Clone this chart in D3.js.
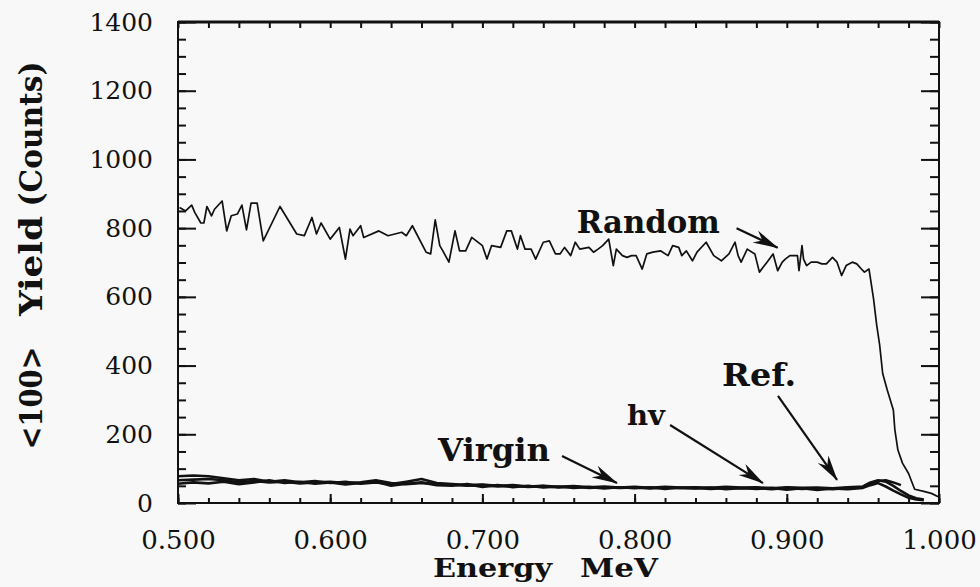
<!DOCTYPE html>
<html>
<head>
<meta charset="utf-8">
<script src="https://cdn.jsdelivr.net/npm/d3@7"></script>
<style>
    body { margin: 0; background: #f7f8f7; }
    svg { display: block; }
    .note { font-family: "DejaVu Serif", serif; font-weight: bold; fill: #111; }
</style>
</head>
<body>
<svg id="chart" width="980" height="587"></svg>
<script>
// --- data ---
const xTicks = [0.5, 0.6, 0.7, 0.8, 0.9, 1.0];
const yTicks = [0, 200, 400, 600, 800, 1000, 1200, 1400];

const randomEnergy = [0.501, 0.505, 0.509, 0.511, 0.515, 0.517, 0.519, 0.522, 0.524, 0.529,
    0.532, 0.535, 0.539, 0.542, 0.545, 0.548, 0.552, 0.556, 0.567, 0.578,
    0.583, 0.588, 0.591, 0.594, 0.600, 0.606, 0.610, 0.613, 0.615, 0.620,
    0.622, 0.632, 0.638, 0.647, 0.650, 0.654, 0.663, 0.666, 0.669, 0.672,
    0.674, 0.678, 0.682, 0.685, 0.689, 0.693, 0.700, 0.703, 0.706, 0.712,
    0.716, 0.719, 0.723, 0.725, 0.728, 0.732, 0.735, 0.740, 0.744, 0.748,
    0.751, 0.754, 0.758, 0.761, 0.764, 0.770, 0.773, 0.776, 0.779, 0.783,
    0.786, 0.788, 0.792, 0.795, 0.798, 0.801, 0.805, 0.808, 0.812, 0.817,
    0.822, 0.825, 0.829, 0.831, 0.834, 0.838, 0.841, 0.847, 0.852, 0.857,
    0.862, 0.866, 0.868, 0.870, 0.874, 0.879, 0.882, 0.887, 0.891, 0.894,
    0.897, 0.899, 0.902, 0.907, 0.908, 0.910, 0.911, 0.913, 0.916, 0.920,
    0.923, 0.926, 0.930, 0.933, 0.936, 0.939, 0.943, 0.946, 0.949, 0.951,
    0.954, 0.955, 0.957, 0.959, 0.961, 0.963, 0.966, 0.970, 0.971, 0.973,
    0.976, 0.980, 0.984, 0.990, 0.995, 0.9995];
const randomCounts = [860, 850, 867, 846, 815, 815, 863, 836, 855, 879,
    792, 836, 841, 867, 795, 873, 873, 763, 863, 783,
    778, 831, 783, 815, 768, 802, 710, 797, 778, 807,
    773, 792, 778, 788, 778, 807, 730, 725, 824, 749,
    734, 701, 792, 734, 734, 773, 749, 710, 749, 744,
    792, 792, 739, 778, 739, 739, 710, 759, 763, 725,
    725, 744, 720, 759, 739, 744, 730, 739, 749, 768,
    691, 739, 720, 715, 720, 720, 681, 725, 730, 734,
    720, 749, 744, 720, 734, 705, 730, 759, 720, 705,
    725, 759, 720, 701, 739, 725, 672, 701, 725, 676,
    701, 710, 720, 720, 676, 749, 710, 691, 701, 701,
    696, 696, 715, 701, 662, 691, 701, 696, 681, 672,
    681, 652, 594, 520, 460, 377, 329, 271, 213, 154,
    116, 86, 40, 34, 28, 18];

const lowEnergy = [0.500, 0.510, 0.520, 0.530, 0.540, 0.550, 0.560, 0.570, 0.580, 0.590,
    0.600, 0.610, 0.620, 0.630, 0.640, 0.650, 0.660, 0.670, 0.680, 0.690,
    0.700, 0.710, 0.720, 0.730, 0.740, 0.750, 0.760, 0.770, 0.780, 0.790,
    0.800, 0.810, 0.820, 0.830, 0.840, 0.850, 0.860, 0.870, 0.880, 0.890,
    0.900, 0.910, 0.920, 0.930, 0.940, 0.950, 0.955, 0.960, 0.965, 0.970,
    0.975, 0.980, 0.985, 0.990];
const virginCounts = [78, 80, 78, 72, 66, 70, 62, 66, 60, 64,
    58, 62, 56, 60, 55, 62, 70, 58, 55, 52,
    54, 50, 52, 48, 50, 47, 49, 46, 48, 45,
    47, 44, 47, 45, 46, 44, 47, 45, 46, 43,
    46, 44, 45, 43, 46, 48, 60, 66, 62, 50,
    35, 22, 14, 10];
const hvCounts = [56, 60, 57, 62, 55, 60, 66, 58, 62, 56,
    60, 54, 58, 62, 50, 56, 60, 52, 50, 55,
    47, 52, 46, 50, 45, 48, 44, 47, 42, 46,
    43, 46, 41, 45, 42, 45, 40, 44, 41, 44,
    39, 43, 38, 42, 40, 44, 52, 58, 48, 36,
    25, 15, 10, 8];
const refCounts = [66, 68, 70, 66, 60, 64, 60, 62, 57, 60,
    62, 58, 60, 66, 58, 55, 58, 55, 53, 50,
    52, 48, 50, 47, 49, 45, 48, 44, 46, 44,
    45, 42, 45, 43, 44, 41, 44, 42, 44, 40,
    44, 41, 43, 40, 44, 46, 56, 64, 66, 60,
    52, null, null, null];

// annotation anchors in data units: text spot, arrow tail, arrow tip
const notes = [
    {label: "Random", tx: 0.762, ty: 786, size: 31, len: 143, x1: 0.867, y1: 800, x2: 0.894, y2: 743},
    {label: "Virgin", tx: 0.6708, ty: 122, size: 31, len: 112, x1: 0.7523, y1: 137, x2: 0.7884, y2: 58},
    {label: "hv", tx: 0.795, ty: 227, size: 27, len: 38, x1: 0.8233, y1: 227, x2: 0.8843, y2: 58},
    {label: "Ref.", tx: 0.8575, ty: 341, size: 31, len: 74, x1: 0.8942, y1: 312, x2: 0.933, y2: 67}
];

const svg = d3.select("#chart");
const plotL = 178, plotR = 939, plotT = 22, plotB = 503;

const x = d3.scaleLinear().domain([0.5, 1.0]).range([plotL, plotR]);
const y = d3.scaleLinear().domain([0, 1400]).range([plotB, plotT]);

// frame
svg.append("rect")
    .attr("x", plotL).attr("y", plotT)
    .attr("width", plotR - plotL).attr("height", plotB - plotT)
    .attr("fill", "none").attr("stroke", "#111").attr("stroke-width", 2);
svg.append("line")
    .attr("x1", plotL).attr("x2", plotR).attr("y1", plotT).attr("y2", plotT)
    .attr("stroke", "#111").attr("stroke-width", 3);

function addAxis(axis, tx, ty) {
    const g = svg.append("g")
        .attr("transform", "translate(" + tx + "," + ty + ")")
        .call(axis)
        .attr("font-family", "DejaVu Serif");
    g.select(".domain").remove();
    g.selectAll(".tick line").attr("stroke", "#111").attr("stroke-width", 2);
    g.selectAll(".tick text").attr("fill", "#111");
    return g;
}

const yMinor = [];
for (let v = 0; v <= 1400; v += 50) yMinor.push(v);
const xMinor = [];
for (let i = 0; i <= 25; i++) xMinor.push(0.5 + i * 0.02);

// y axis, ticks pointing inward on both sides
addAxis(d3.axisLeft(y).tickValues(yMinor).tickSize(-8).tickFormat(""), plotL, 0);
addAxis(d3.axisRight(y).tickValues(yMinor).tickSize(-9).tickFormat(""), plotR, 0);
addAxis(d3.axisRight(y).tickValues(yTicks).tickSize(-18).tickFormat(""), plotR, 0);
addAxis(d3.axisLeft(y).tickValues(yTicks).tickSize(-18).tickPadding(25).tickFormat(d3.format("d")), plotL, 0)
    .attr("font-size", 25);

// x axis
addAxis(d3.axisTop(x).tickValues(xMinor).tickSize(-6).tickFormat(""), 0, plotT);
addAxis(d3.axisBottom(x).tickValues(xMinor).tickSize(-5).tickFormat(""), 0, plotB);
addAxis(d3.axisBottom(x).tickValues(xTicks).tickSize(-9).tickPadding(28).tickFormat(d3.format(".3f")), 0, plotB)
    .attr("font-size", 26);

// axis titles
svg.append("text").attr("class", "note")
    .attr("x", 433).attr("y", 577)
    .attr("font-size", 26).attr("textLength", 119).attr("lengthAdjust", "spacingAndGlyphs")
    .text("Energy");
svg.append("text").attr("class", "note")
    .attr("x", 580).attr("y", 577)
    .attr("font-size", 26).attr("textLength", 78).attr("lengthAdjust", "spacingAndGlyphs")
    .text("MeV");

const yTitle = [["<100>", 398, 103], ["Yield", 266, 100], ["(Counts)", 134, 145]];
yTitle.forEach(function (t) {
    svg.append("text").attr("class", "note")
        .attr("transform", "translate(42," + t[1] + ") rotate(-90)")
        .attr("text-anchor", "middle")
        .attr("font-size", 32).attr("textLength", t[2]).attr("lengthAdjust", "spacingAndGlyphs")
        .text(t[0]);
});

// curves
const line = d3.line()
    .defined(function (d) { return d[1] !== null; })
    .x(function (d) { return x(d[0]); })
    .y(function (d) { return y(d[1]); });

svg.append("path")
    .datum(d3.zip(randomEnergy, randomCounts))
    .attr("d", line)
    .attr("fill", "none").attr("stroke", "#111").attr("stroke-width", 1.7)
    .attr("stroke-linejoin", "round");

[virginCounts, hvCounts, refCounts].forEach(function (counts) {
    svg.append("path")
        .datum(d3.zip(lowEnergy, counts))
        .attr("d", line)
        .attr("fill", "none").attr("stroke", "#111").attr("stroke-width", 2.6)
        .attr("stroke-linejoin", "round");
});

// arrow heads
svg.append("defs").append("marker")
    .attr("id", "head")
    .attr("viewBox", "0 -7 26 14")
    .attr("refX", 25).attr("refY", 0)
    .attr("markerWidth", 26).attr("markerHeight", 14)
    .attr("markerUnits", "userSpaceOnUse")
    .attr("orient", "auto")
    .append("path")
    .attr("d", "M0,-7L26,0L0,6L8,0Z")
    .attr("fill", "#111");

notes.forEach(function (n) {
    svg.append("text").attr("class", "note")
        .attr("x", x(n.tx)).attr("y", y(n.ty))
        .attr("font-size", n.size).attr("textLength", n.len).attr("lengthAdjust", "spacingAndGlyphs")
        .text(n.label);
    svg.append("line")
        .attr("x1", x(n.x1)).attr("y1", y(n.y1))
        .attr("x2", x(n.x2)).attr("y2", y(n.y2))
        .attr("stroke", "#111").attr("stroke-width", 2.2)
        .attr("marker-end", "url(#head)");
});
</script>
</body>
</html>
